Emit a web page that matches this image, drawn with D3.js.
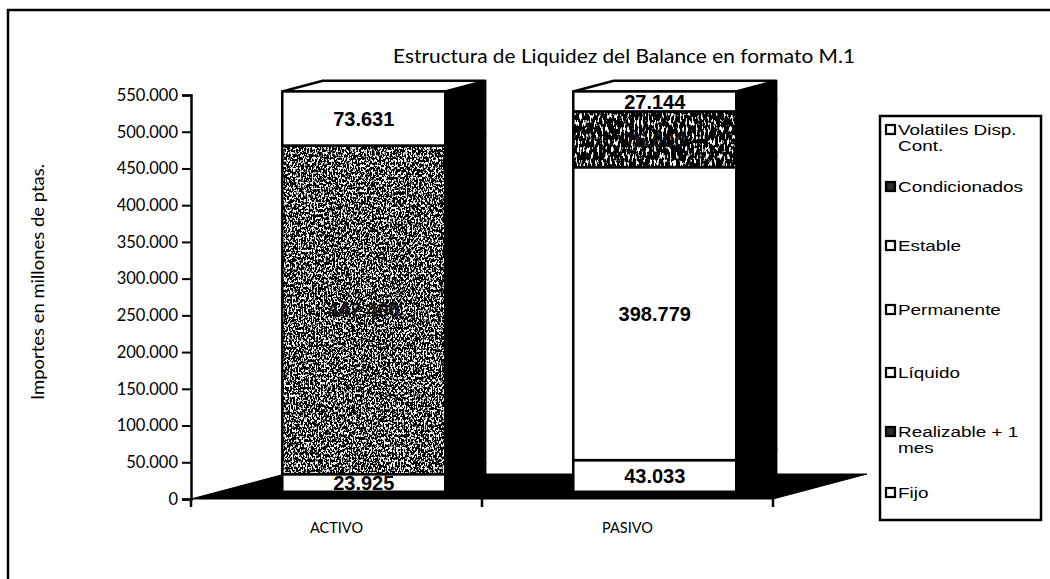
<!DOCTYPE html>
<html>
<head>
<meta charset="utf-8">
<script src="https://cdn.jsdelivr.net/npm/d3@7"></script>
<style>
  body { margin: 0; background: #fff; }
  svg { display: block; }
</style>
</head>
<body>
<svg id="chart" width="1050" height="579"></svg>
<script>
// Data
var categories = ["ACTIVO", "PASIVO"];
var seriesNames = ["Fijo", "Realizable + 1 mes", "Líquido", "Permanente", "Estable", "Condicionados", "Volatiles Disp. Cont."];
var activoValues = [23925, 447400, 73631, 0, 0, 0, 0];
var pasivoValues = [0, 0, 0, 43033, 398779, 76000, 27144];
var yTickValues = [0, 50000, 100000, 150000, 200000, 250000, 300000, 350000, 400000, 450000, 500000, 550000];
var legendLines = [["Volatiles Disp.", "Cont."], ["Condicionados"], ["Estable"], ["Permanente"], ["Líquido"], ["Realizable + 1", "mes"], ["Fijo"]];

var svg = d3.select("#chart");
var esLocale = d3.formatLocale({ decimal: ",", thousands: ".", grouping: [3], currency: ["", ""] });
var fmt = esLocale.format(",");

// fills per series: white or scanned grey texture
var seriesFill = ["#fff", "url(#texA)", "#fff", "#fff", "#fff", "url(#texB)", "#fff"];
var labelFill = ["#000", "#111", "#000", "#000", "#000", "#111", "#000"];

/* ==========================================================================
 * Textures (scanned halftone look)
 * ========================================================================== */
var defs = svg.append("defs");
function makeSpeckle(id, freq, cut) {
    var f = defs.append("filter").attr("id", id + "f")
        .attr("x", 0).attr("y", 0).attr("width", "100%").attr("height", "100%");
    f.append("feTurbulence").attr("type", "fractalNoise").attr("baseFrequency", freq)
        .attr("numOctaves", 3).attr("seed", 11).attr("result", "n");
    f.append("feColorMatrix").attr("in", "n").attr("type", "matrix")
        .attr("values", "0 0 0 0 1  0 0 0 0 1  0 0 0 0 1  10 0 0 0 " + cut).attr("result", "w");
    f.append("feComposite").attr("in", "w").attr("in2", "SourceGraphic").attr("operator", "in").attr("result", "wc");
    var m = f.append("feMerge");
    m.append("feMergeNode").attr("in", "SourceGraphic");
    m.append("feMergeNode").attr("in", "wc");
    var p = defs.append("pattern").attr("id", id).attr("patternUnits", "userSpaceOnUse")
        .attr("width", 400).attr("height", 500);
    p.append("rect").attr("width", 400).attr("height", 500).attr("fill", "#000")
        .attr("filter", "url(#" + id + "f)");
}
makeSpeckle("texA", "0.65 0.4", -5.1);
makeSpeckle("texB", "0.5 0.15", -5.6);

/* ==========================================================================
 * Scales and projection
 * ========================================================================== */
var y = d3.scaleLinear().domain([0, 550000]).range([499, 95]);
var x = d3.scaleBand().domain(categories).range([191, 773]).paddingInner(0.44).paddingOuter(0.22);
var depth = [94, -25];       // full floor depth vector
var z0 = 0.29, z1 = 0.72;    // bars occupy this part of the depth

function P(px, v, z) {
    return [px + z * depth[0], y(v) + z * depth[1]];
}
function poly(pts) { return pts.map(function (p) { return p.join(","); }).join(" "); }

// floor
var xl = x.range()[0], xr = x.range()[1];
svg.append("polygon")
    .attr("points", poly([P(xl, 0, 0), P(xr, 0, 0), P(xr, 0, 1), P(xl, 0, 1)]))
    .attr("fill", "#000").attr("stroke", "#000");

/* ==========================================================================
 * Bars
 * ========================================================================== */
var barData = [activoValues, pasivoValues];
categories.forEach(function (cat, ci) {
    var vals = barData[ci];
    var left = x(cat), right = x(cat) + x.bandwidth();
    var g = svg.append("g");
    var base = 0, segs = [];
    vals.forEach(function (v, si) {
        if (v > 0) { segs.push({ s: si, v0: base, v1: base + v }); base += v; }
    });
    // side faces
    g.selectAll("polygon.side").data(segs).enter().append("polygon")
        .attr("points", function (d) {
            return poly([P(right, d.v0, z0), P(right, d.v0, z1), P(right, d.v1, z1), P(right, d.v1, z0)]);
        })
        .attr("fill", "#000").attr("stroke", "#000").attr("stroke-width", 1.5);
    // top face
    var top = segs[segs.length - 1];
    g.append("polygon")
        .attr("points", poly([P(left, top.v1, z0), P(right, top.v1, z0), P(right, top.v1, z1), P(left, top.v1, z1)]))
        .attr("fill", "#fff").attr("stroke", "#000").attr("stroke-width", 2.5);
    // front faces
    g.selectAll("rect.front").data(segs).enter().append("rect")
        .attr("x", P(left, 0, z0)[0])
        .attr("y", function (d) { return P(left, d.v1, z0)[1]; })
        .attr("width", x.bandwidth())
        .attr("height", function (d) { return y(d.v0) - y(d.v1); })
        .attr("fill", function (d) { return seriesFill[d.s]; })
        .attr("stroke", "#000").attr("stroke-width", 2.5);
    // value labels
    g.selectAll("text.val").data(segs).enter().append("text")
        .attr("x", P(left + x.bandwidth() / 2, 0, z0)[0])
        .attr("y", function (d) { return P(left, (d.v0 + d.v1) / 2, z0)[1]; })
        .attr("dy", "0.36em")
        .attr("text-anchor", "middle")
        .attr("font-family", "Liberation Sans, Arial, sans-serif")
        .attr("font-weight", "bold").attr("font-size", 20)
        .attr("fill", function (d) { return labelFill[d.s]; })
        .text(function (d) { return fmt(d.v1 - d.v0); });
});

/* ==========================================================================
 * Axes
 * ========================================================================== */
var yAxis = svg.append("g").attr("transform", "translate(" + xl + ",0)")
    .call(d3.axisLeft(y).tickValues(yTickValues).tickSize(9).tickPadding(4).tickFormat(fmt));
yAxis.select(".domain").attr("stroke-width", 2.5);
yAxis.selectAll(".tick line").attr("stroke-width", 2);
yAxis.selectAll("text").attr("font-family", "Lato, sans-serif").attr("font-size", 16.5).attr("fill", "#000");

var xTicks = [xl, xl + x.step(), xr];
svg.selectAll("line.xtick").data(xTicks).enter().append("line")
    .attr("x1", function (d) { return d; }).attr("x2", function (d) { return d; })
    .attr("y1", y(0)).attr("y2", y(0) + 8)
    .attr("stroke", "#000").attr("stroke-width", 2.5);
svg.selectAll("text.cat").data(categories).enter().append("text")
    .attr("x", function (d) { return x(d) + x.bandwidth() / 2; })
    .attr("y", y(0) + 34)
    .attr("text-anchor", "middle")
    .attr("font-family", "Lato, sans-serif").attr("font-size", 14.5)
    .text(function (d) { return d; });

// axis title
svg.append("text")
    .attr("transform", "translate(44,282) rotate(-90)")
    .attr("text-anchor", "middle")
    .attr("font-family", "Lato, sans-serif").attr("font-size", 17)
    .attr("textLength", 236).attr("lengthAdjust", "spacingAndGlyphs")
    .text("Importes en millones de ptas.");

// chart title
svg.append("text")
    .attr("x", 624).attr("y", 63)
    .attr("text-anchor", "middle")
    .attr("font-family", "Lato, sans-serif").attr("font-size", 19)
    .attr("textLength", 462).attr("lengthAdjust", "spacingAndGlyphs")
    .text("Estructura de Liquidez del Balance en formato M.1");

/* ==========================================================================
 * Legend
 * ========================================================================== */
svg.append("rect").attr("x", 880).attr("y", 116).attr("width", 161).attr("height", 404)
    .attr("fill", "#fff").attr("stroke", "#000").attr("stroke-width", 2.5);
var legendY = [130, 187, 246, 310, 373, 432, 493];
var legendSeries = seriesNames.slice().reverse();
var legendFill = seriesFill.slice().reverse().map(function (f) { return f === "#fff" ? "#fff" : "#2a2a2a"; });
var lg = svg.selectAll("g.leg").data(legendSeries).enter().append("g")
    .attr("transform", function (d, i) { return "translate(886," + legendY[i] + ")"; });
lg.append("rect").attr("x", 0).attr("y", -5).attr("width", 9).attr("height", 9)
    .attr("fill", function (d, i) { return legendFill[i]; })
    .attr("stroke", "#000").attr("stroke-width", 2.2);
lg.each(function (d, i) {
    var t = d3.select(this).append("text")
        .attr("transform", "translate(12,0) scale(1.22,1)")
        .attr("font-family", "Liberation Sans, Arial, sans-serif").attr("font-size", 15.5);
    legendLines[i].forEach(function (line, li) {
        t.append("tspan").attr("x", 0).attr("dy", li === 0 ? "0.35em" : 16).text(line);
    });
});

// outer frame (left and top edges visible)
svg.append("path").attr("d", "M8,579 L8,10 L1050,10")
    .attr("fill", "none").attr("stroke", "#000").attr("stroke-width", 2.5);
</script>
</body>
</html>
